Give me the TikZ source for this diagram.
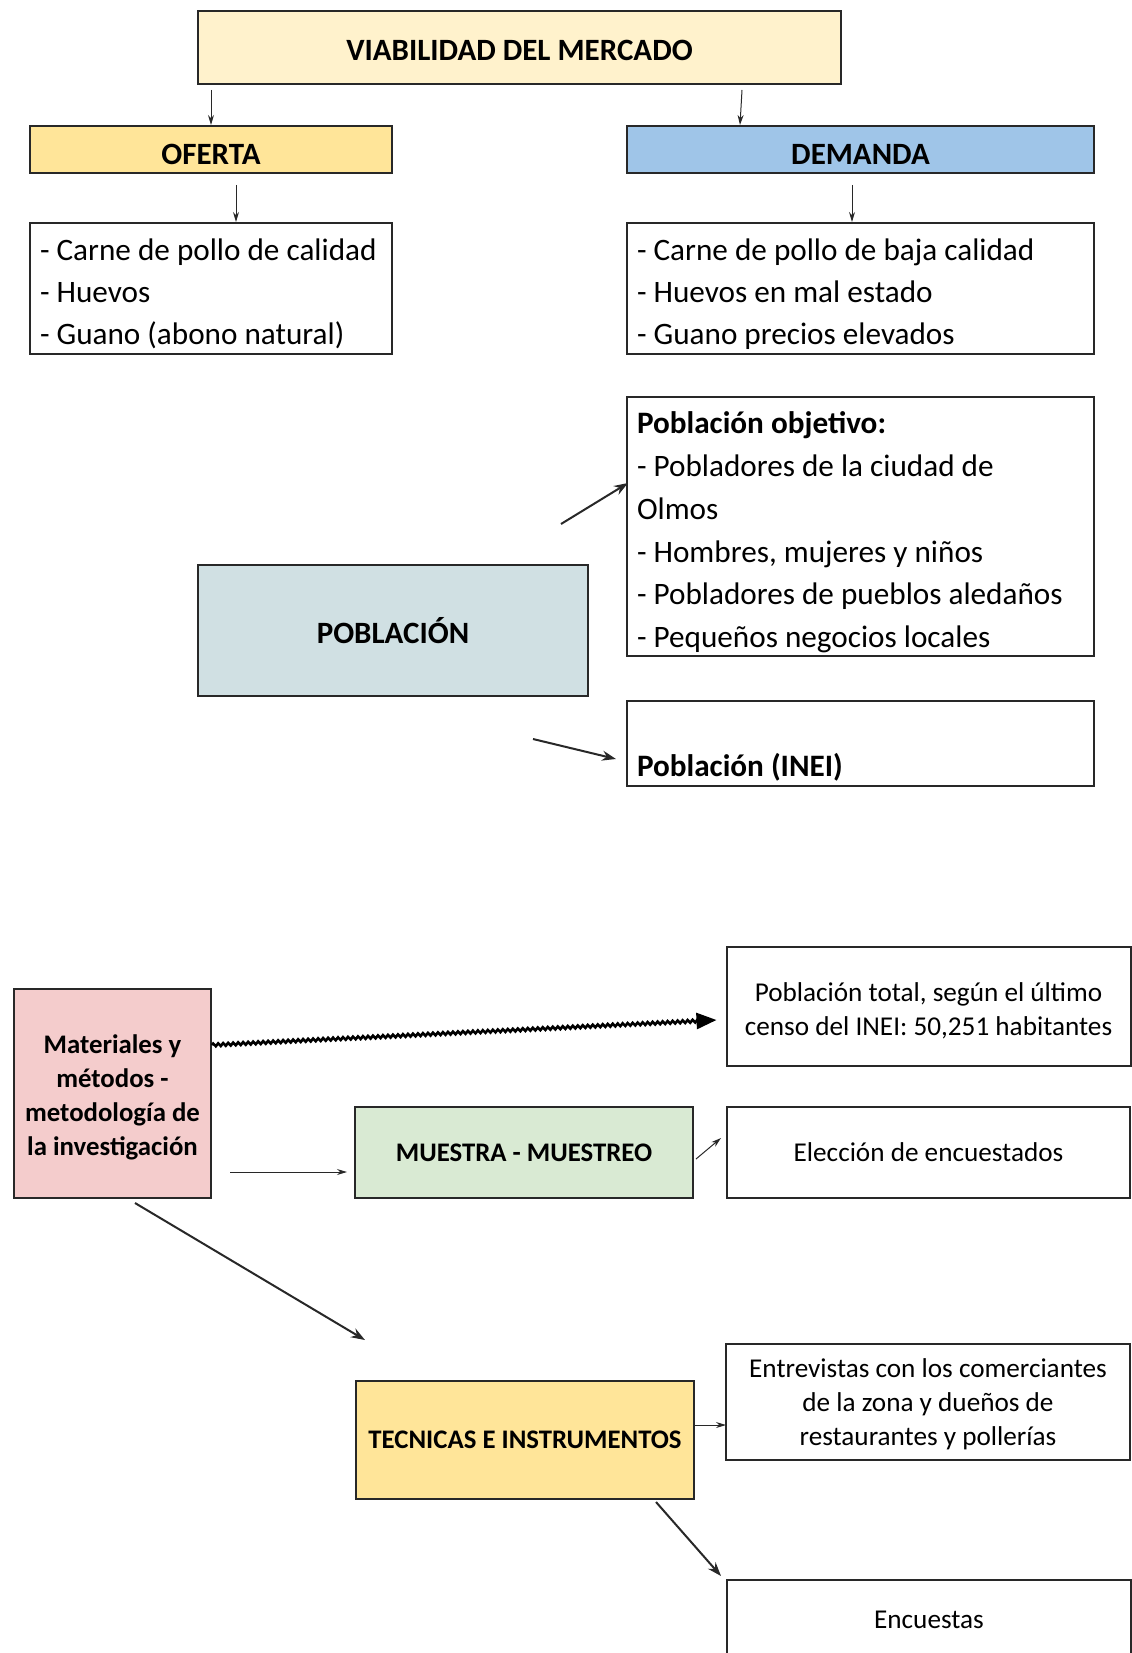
\documentclass[tikz,border=0pt]{standalone}
\usepackage{fontspec}
\setmainfont{Carlito}
\usetikzlibrary{arrows.meta,calc,decorations.pathmorphing}
\definecolor{viabfill}{RGB}{255,242,204}
\definecolor{ofertafill}{RGB}{255,229,153}
\definecolor{demandafill}{RGB}{159,197,232}
\definecolor{poblfill}{RGB}{208,224,227}
\definecolor{matfill}{RGB}{244,204,204}
\definecolor{muesfill}{RGB}{217,234,211}
\definecolor{edge}{RGB}{40,40,40}

\begin{document}
\begin{tikzpicture}[x=0.5pt,y=-0.5pt,
    box/.style={draw=edge, line width=1pt, inner sep=0pt},
    head/.style={box, font=\fontsize{15.5}{21}\selectfont\bfseries},
    subhead/.style={box, font=\fontsize{13.4}{17}\selectfont\bfseries, align=flush center},
    listbox/.style={box, font=\fontsize{15.6}{21.1}\selectfont, align=flush left, text width=223.5pt, inner xsep=5pt},
    textbox/.style={box, font=\fontsize{13.6}{17}\selectfont, align=flush center},
    thinarr/.style={draw=edge, line width=0.5pt, -{Stealth[length=5pt,width=3pt]}},
    thickarr/.style={draw=edge, line width=1pt, -{Stealth[length=7pt,width=5pt]}},
    wavyarr/.style={draw=black, line width=1.3pt, -{Triangle[length=10pt,width=8pt]},
      decorate, decoration={zigzag, amplitude=0.7pt, segment length=2.5pt, post length=4pt}}]
  \useasboundingbox (0,0) rectangle (1131,1653);

  % viabilidad
  \node[head, fill=viabfill, minimum width=321.5pt, text height=24.6pt, text depth=11.9pt] (viab) at (519.5,47.5) {VIABILIDAD DEL MERCADO};
  \node[head, fill=ofertafill, minimum width=181pt, text height=19.3pt, text depth=4.2pt] (oferta) at (211,149.5) {OFERTA};
  \node[head, fill=demandafill, minimum width=233.5pt, text height=19.3pt, text depth=4.2pt] (demanda) at (860.5,149.5) {DEMANDA};
  \node[listbox, text width=171pt, text height=18.8pt, text depth=46.7pt] (oflist) at (211,288.5)
    {- Carne de pollo de calidad\\- Huevos\\- Guano (abono natural)};
  \node[listbox, text height=18.8pt, text depth=46.7pt] (demlist) at (860.5,288.5)
    {- Carne de pollo de baja calidad\\- Huevos en mal estado\\- Guano precios elevados};
  \draw[thinarr] ($(viab.south west)+(14,5)$) -- ($(oferta.north west)+(182,0)$);
  \draw[thinarr] ($(viab.south east)+(-100,5)$) -- ($(demanda.north west)+(114,0)$);
  \draw[thinarr] ($(oferta.south west)+(207,11)$) -- ($(oflist.north west)+(207,0)$);
  \draw[thinarr] ($(demanda.south west)+(226,11)$) -- ($(demlist.north west)+(226,0)$);

  % poblacion
  \node[head, fill=poblfill, minimum width=195pt, minimum height=65.5pt] (poblacion) at (393,630.5) {POBLACIÓN};
  \node[listbox, font=\fontsize{15.6}{21.4}\selectfont, text height=18.3pt, text depth=111.2pt] (objetivo) at (860.5,526.5)
    {\textbf{Población objetivo:}\\- Pobladores de la ciudad de\\Olmos\\- Hombres, mujeres y niños\\- Pobladores de pueblos aledaños\\- Pequeños negocios locales};
  \node[listbox, text height=37.8pt, text depth=4.7pt] (inei) at (860.5,743.5) {\textbf{Población (INEI)}};
  \draw[thickarr] ($(poblacion.north east)+(-28,-40)$) -- ($(objetivo.north west)+(2,87)$);
  \draw[thickarr] ($(poblacion.south east)+(-56,42)$) -- ($(inei.west)+(-10,15.5)$);

  % metodologia
  \node[subhead, fill=matfill, text width=92pt, inner xsep=3.25pt, text height=32.3pt, text depth=72.2pt] (materiales) at (112.5,1093.5)
    {Materiales y\\métodos -\\metodología de\\la investigación};
  \node[textbox, text width=192pt, inner xsep=5pt, text height=27pt, text depth=32.5pt] (total) at (928.5,1006.5)
    {Población total, según el último\\censo del INEI: 50,251 habitantes};
  \node[subhead, fill=muesfill, minimum width=169pt, minimum height=45.5pt] (muestra) at (524,1152.5) {MUESTRA - MUESTREO};
  \node[textbox, minimum width=201.5pt, minimum height=45.5pt] (eleccion) at (928.5,1152.5) {Elección de encuestados};
  \node[subhead, fill=ofertafill, minimum width=169pt, minimum height=59pt] (tecnicas) at (525,1440) {TECNICAS E INSTRUMENTOS};
  \node[textbox, text width=192pt, inner xsep=5pt, text height=16.5pt, text depth=41.5pt] (entrevistas) at (928,1402)
    {Entrevistas con los comerciantes\\de la zona y dueños de\\restaurantes y pollerías};
  \node[textbox, minimum width=202pt, minimum height=40pt] (encuestas) at (929,1620) {Encuestas};
  \draw[wavyarr] ($(materiales.north east)+(0,57)$) -- ($(total.west)+(-9,13.5)$);
  \draw[thinarr] ($(materiales.east)+(18,78.5)$) -- ($(muestra.west)+(-7,19.5)$);
  \draw[thinarr] ($(muestra.east)+(2,6.5)$) -- ($(eleccion.west)+(-5,-14.5)$);
  \draw[thickarr] ($(materiales.south)+(22.5,4)$) -- ($(tecnicas.north west)+(10,-40)$);
  \draw[thinarr] ($(tecnicas.east)+(0,-15)$) -- ($(entrevistas.west)+(1,23)$);
  \draw[thickarr] ($(tecnicas.south east)+(-39,2)$) -- ($(encuestas.north west)+(-5,-3)$);
\end{tikzpicture}
\end{document}
